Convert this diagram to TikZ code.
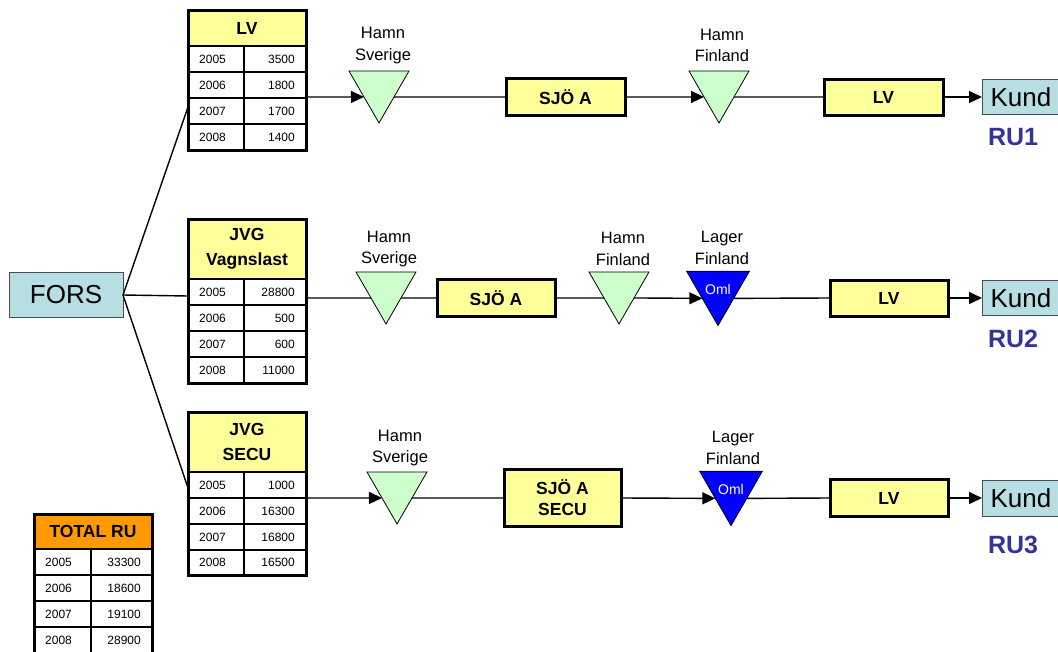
\documentclass[tikz,border=0pt]{standalone}
\usepackage{fontspec}
\setmainfont{Liberation Sans}
\usetikzlibrary{shapes.geometric,arrows.meta}
\definecolor{boxyellow}{RGB}{255,255,153}
\definecolor{portgreen}{RGB}{204,255,204}
\definecolor{endblue}{RGB}{183,222,226}
\definecolor{totalorange}{RGB}{255,153,0}
\definecolor{rublue}{RGB}{51,51,153}
\begin{document}
\begin{tikzpicture}[x=1pt, y=-1pt,
    link/.style={line width=1.4pt},
    flow/.style={line width=1.4pt, -{Triangle[length=13pt,width=12pt]}},
    grid/.style={line width=1.3pt},
    frame/.style={line width=3pt},
    port/.style={regular polygon, regular polygon sides=3, shape border rotate=180,
        minimum size=69.3pt, inner sep=0pt, outer sep=0pt, draw, line width=0.8pt, fill=portgreen},
    store/.style={port, fill=blue, text=white, font=\fontsize{14}{16}\selectfont},
    place/.style={align=center, font=\fontsize{16.5}{21.5}\selectfont},
    leg/.style={draw, line width=3pt, fill=boxyellow, inner sep=0pt, outer sep=0pt, align=center,
        font=\bfseries\fontsize{17.5}{21}\selectfont},
    ends/.style={draw=black!70, line width=0.8pt, fill=endblue, inner sep=0pt, outer sep=0pt,
        font=\fontsize{26}{28}\selectfont},
    hd/.style={align=center, font=\bfseries\fontsize{17.5}{25}\selectfont},
    yr/.style={anchor=west, inner sep=0pt, font=\fontsize{12}{14}\selectfont},
    amt/.style={anchor=east, inner sep=0pt, font=\fontsize{12}{14}\selectfont},
    ru/.style={text=rublue, font=\bfseries\fontsize{25}{28}\selectfont}]
    \useasboundingbox (0,0) rectangle (1058,651);
    \clip (0,0) rectangle (1058,651);

    % FORS
    \node[ends, minimum width=114pt, minimum height=45pt] (fors) at (66,295) {FORS};
    \coordinate (lvin) at (188,107);
    \coordinate (vgin) at (188,296);
    \coordinate (secin) at (188,488);
    \draw[link] (fors.east) -- (lvin);
    \draw[link] (fors.east) -- (vgin);
    \draw[link] (fors.east) -- (secin);

    % table LV
    \fill[boxyellow] (188,10) rectangle (306,46);
    \draw[grid] (188,46) -- (306,46);
    \draw[grid] (188,72) -- (306,72);
    \draw[grid] (188,98) -- (306,98);
    \draw[grid] (188,124) -- (306,124);
    \draw[grid] (244,46) -- (244,150);
    \draw[frame] (188,10) rectangle (306,150);
    \node[hd] (lvhd) at (247,28) {LV};
    \node[yr] (lv05) at (199,59) {2005};
    \node[amt] (lv05n) at (295,59) {3500};
    \node[yr] (lv06) at (199,85) {2006};
    \node[amt] (lv06n) at (295,85) {1800};
    \node[yr] (lv07) at (199,111) {2007};
    \node[amt] (lv07n) at (295,111) {1700};
    \node[yr] (lv08) at (199,137) {2008};
    \node[amt] (lv08n) at (295,137) {1400};

    % table JVG Vagnslast
    \fill[boxyellow] (188,219) rectangle (306,279);
    \draw[grid] (188,279) -- (306,279);
    \draw[grid] (188,305) -- (306,305);
    \draw[grid] (188,331) -- (306,331);
    \draw[grid] (188,357) -- (306,357);
    \draw[grid] (244,279) -- (244,383);
    \draw[frame] (188,219) rectangle (306,383);
    \node[hd] (vghd) at (247,249) {JVG\\Vagnslast};
    \node[yr] (vg05) at (199,292) {2005};
    \node[amt] (vg05n) at (295,292) {28800};
    \node[yr] (vg06) at (199,318) {2006};
    \node[amt] (vg06n) at (295,318) {500};
    \node[yr] (vg07) at (199,344) {2007};
    \node[amt] (vg07n) at (295,344) {600};
    \node[yr] (vg08) at (199,370) {2008};
    \node[amt] (vg08n) at (295,370) {11000};

    % table JVG SECU
    \fill[boxyellow] (188,412) rectangle (306,472);
    \draw[grid] (188,472) -- (306,472);
    \draw[grid] (188,498) -- (306,498);
    \draw[grid] (188,524) -- (306,524);
    \draw[grid] (188,550) -- (306,550);
    \draw[grid] (244,472) -- (244,575);
    \draw[frame] (188,412) rectangle (306,575);
    \node[hd] (sechd) at (247,442) {JVG\\SECU};
    \node[yr] (sec05) at (199,485) {2005};
    \node[amt] (sec05n) at (295,485) {1000};
    \node[yr] (sec06) at (199,511) {2006};
    \node[amt] (sec06n) at (295,511) {16300};
    \node[yr] (sec07) at (199,537) {2007};
    \node[amt] (sec07n) at (295,537) {16800};
    \node[yr] (sec08) at (199,562.5) {2008};
    \node[amt] (sec08n) at (295,562.5) {16500};

    % table TOTAL RU
    \fill[totalorange] (34,514) rectangle (152,549);
    \draw[grid] (34,549) -- (152,549);
    \draw[grid] (34,575) -- (152,575);
    \draw[grid] (34,601) -- (152,601);
    \draw[grid] (34,627) -- (152,627);
    \draw[grid] (91,549) -- (91,655);
    \draw[frame] (34,514) rectangle (152,655);
    \node[hd] (tothd) at (93,531.5) {TOTAL RU};
    \node[yr] (tot05) at (45,562) {2005};
    \node[amt] (tot05n) at (141,562) {33300};
    \node[yr] (tot06) at (45,588) {2006};
    \node[amt] (tot06n) at (141,588) {18600};
    \node[yr] (tot07) at (45,614) {2007};
    \node[amt] (tot07n) at (141,614) {19100};
    \node[yr] (tot08) at (45,640) {2008};
    \node[amt] (tot08n) at (141,640) {28900};

    % RU1
    \coordinate (lvout) at (306,97);
    \node[port] (hs1) at (379,88.3) {};
    \node[place] (hs1l) at (383,45.5) {Hamn\\Sverige};
    \node[leg, minimum width=119pt, minimum height=37pt] (sjo1) at (565.5,97) {SJÖ A};
    \node[port] (hf1) at (719,88.3) {};
    \node[place] (hf1l) at (722,45.5) {Hamn\\Finland};
    \node[leg, minimum width=119pt, minimum height=36pt] (lv1) at (883.5,97) {LV};
    \node[ends, minimum width=78pt, minimum height=35pt] (kund1) at (1021,97) {Kund};
    \node[ru] (ru1) at (1013,137) {RU1};
    \draw[flow] (lvout) -- (hs1.side 3);
    \draw[link] (hs1.side 1) -- (sjo1.west);
    \draw[flow] (sjo1.east) -- (hf1.side 3);
    \draw[link] (hf1.side 1) -- (lv1.west);
    \draw[flow] (lv1.east) -- (kund1.west);

    % RU2
    \coordinate (vgout) at (306,298);
    \node[port] (hs2) at (386,289.3) {};
    \node[place] (hs2l) at (389,249) {Hamn\\Sverige};
    \node[leg, minimum width=118pt, minimum height=37pt] (sjo2) at (496,298) {SJÖ A};
    \node[port] (hf2) at (619,289.3) {};
    \node[place] (hf2l) at (623,249) {Hamn\\Finland};
    \node[store] (lf2) at (718,289.3) {Oml};
    \node[place] (lf2l) at (722,248) {Lager\\Finland};
    \node[leg, minimum width=118pt, minimum height=36pt] (lv2) at (889,298) {LV};
    \node[ends, minimum width=78pt, minimum height=35pt] (kund2) at (1021,298) {Kund};
    \node[ru] (ru2) at (1013,339) {RU2};
    \draw[link] (vgout) -- (hs2.side 3);
    \draw[link] (hs2.side 1) -- (sjo2.west);
    \draw[link] (sjo2.east) -- (hf2.side 3);
    \draw[flow] (hf2.side 1) -- (lf2.side 3);
    \draw[link] (lf2.side 1) -- (lv2.west);
    \draw[flow] (lv2.east) -- (kund2.west);

    % RU3
    \coordinate (secout) at (306,498);
    \node[port] (hs3) at (397,489.3) {};
    \node[place] (hs3l) at (400,448) {Hamn\\Sverige};
    \node[leg, minimum width=117pt, minimum height=57pt] (sjo3) at (562.5,498) {SJÖ A\\SECU};
    \node[store] (lf3) at (731,489.3) {Oml};
    \node[place] (lf3l) at (733,448) {Lager\\Finland};
    \node[leg, minimum width=118pt, minimum height=37pt] (lv3) at (889,498) {LV};
    \node[ends, minimum width=78pt, minimum height=36pt] (kund3) at (1021,498) {Kund};
    \node[ru] (ru3) at (1013,545) {RU3};
    \draw[flow] (secout) -- (hs3.side 3);
    \draw[link] (hs3.side 1) -- (sjo3.west);
    \draw[flow] (sjo3.east) -- (lf3.side 3);
    \draw[link] (lf3.side 1) -- (lv3.west);
    \draw[flow] (lv3.east) -- (kund3.west);
\end{tikzpicture}
\end{document}
